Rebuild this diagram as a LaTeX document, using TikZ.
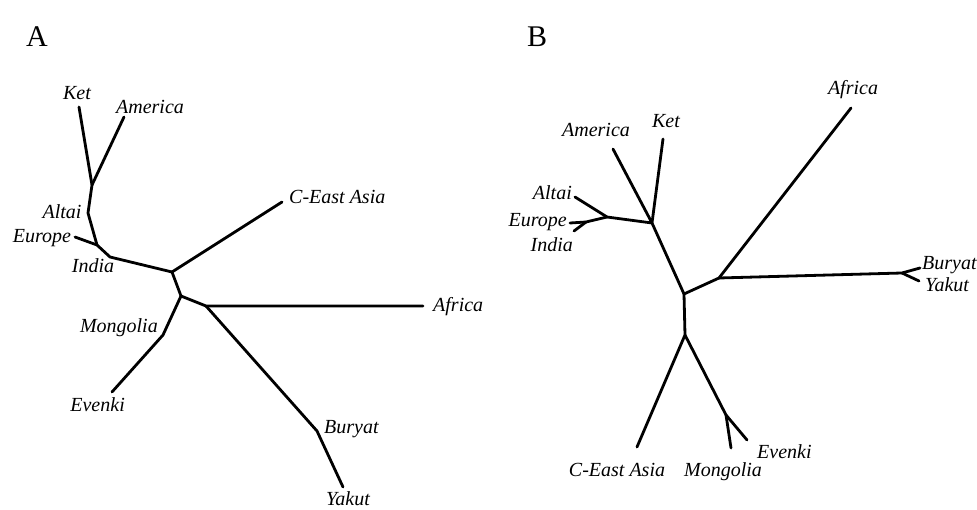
\documentclass[tikz,border=0pt]{standalone}
\usepackage{fontspec}
\setmainfont{Liberation Serif}
\begin{document}
\begin{tikzpicture}[x=1pt,y=-1pt,
  br/.style={line width=2.8pt,line join=round,line cap=round},
  lab/.style={inner sep=0pt,font=\fontsize{20}{20}\selectfont\itshape},
  panel/.style={inner sep=0pt,font=\fontsize{30}{30}\selectfont}]
\useasboundingbox (0,0) rectangle (977,510);
% panel letters
\node[panel] (pA) at (37,37) {A};
\node[panel] (pB) at (537,37) {B};
% ---------------- tree A ----------------
\coordinate (aKet) at (79,107);
\coordinate (aAme) at (124,117);
\coordinate (aJ1) at (92,185);
\coordinate (aAlt) at (88,213);
\coordinate (aJ2) at (97,245);
\coordinate (aEur) at (75,237);
\coordinate (aInd) at (110,257);
\coordinate (aJ3) at (172,272);
\coordinate (aCEA) at (282,202);
\coordinate (aJ4) at (181,296);
\coordinate (aMon) at (163,335);
\coordinate (aEve) at (112,392);
\coordinate (aJ5) at (206,306);
\coordinate (aAfr) at (423,306);
\coordinate (aBur) at (317,431);
\coordinate (aYak) at (343,487);
\draw[br] (aKet) -- (aJ1) -- (aAlt) -- (aJ2) -- (aInd) -- (aJ3) -- (aJ4) -- (aJ5) -- (aAfr);
\draw[br] (aAme) -- (aJ1);
\draw[br] (aEur) -- (aJ2);
\draw[br] (aJ3) -- (aCEA);
\draw[br] (aJ4) -- (aMon) -- (aEve);
\draw[br] (aJ5) -- (aBur) -- (aYak);
\node[lab] (laKet) at (77,93) {Ket};
\node[lab] (laAme) at (150,107) {America};
\node[lab] (laAlt) at (62,212) {Altai};
\node[lab] (laEur) at (42,238) {Europe};
\node[lab] (laInd) at (93,266) {India};
\node[lab,anchor=west] (laCEA) at (289,197) {C-East Asia};
\node[lab,anchor=west] (laAfr) at (433,307) {Africa};
\node[lab,anchor=east] (laMon) at (158,328) {Mongolia};
\node[lab,anchor=east] (laEve) at (125,405) {Evenki};
\node[lab,anchor=west] (laBur) at (324,429) {Buryat};
\node[lab] (laYak) at (348,499) {Yakut};
% ---------------- tree B ----------------
\coordinate (bKet) at (663,139);
\coordinate (bAme) at (613,149);
\coordinate (bJ1) at (652,223);
\coordinate (bJa) at (607,217);
\coordinate (bAlt) at (575,197);
\coordinate (bJb) at (586,222);
\coordinate (bEur) at (570,223);
\coordinate (bInd) at (574,231);
\coordinate (bJ2) at (684,294);
\coordinate (bJ3) at (719,278);
\coordinate (bAfr) at (851,108);
\coordinate (bJc) at (902,273);
\coordinate (bBur) at (920,268);
\coordinate (bYak) at (919,281);
\coordinate (bJ4) at (685,335);
\coordinate (bCEA) at (637,447);
\coordinate (bJd) at (726,415);
\coordinate (bMon) at (731,448);
\coordinate (bEve) at (747,440);
\draw[br] (bKet) -- (bJ1) -- (bJ2) -- (bJ4) -- (bCEA);
\draw[br] (bAme) -- (bJ1) -- (bJa) -- (bAlt);
\draw[br] (bJa) -- (bJb) -- (bEur);
\draw[br] (bJb) -- (bInd);
\draw[br] (bJ2) -- (bJ3) -- (bAfr);
\draw[br] (bJ3) -- (bJc) -- (bBur);
\draw[br] (bJc) -- (bYak);
\draw[br] (bJ4) -- (bJd) -- (bMon);
\draw[br] (bJd) -- (bEve);
\node[lab] (lbKet) at (666,121) {Ket};
\node[lab] (lbAme) at (596,130) {America};
\node[lab,anchor=east] (lbAlt) at (572,193) {Altai};
\node[lab,anchor=east] (lbEur) at (567,222) {Europe};
\node[lab,anchor=east] (lbInd) at (573,245) {India};
\node[lab] (lbAfr) at (853,90) {Africa};
\node[lab,anchor=west] (lbBur) at (922,265) {Buryat};
\node[lab,anchor=west] (lbYak) at (925,285) {Yakut};
\node[lab] (lbCEA) at (617,470) {C-East Asia};
\node[lab] (lbMon) at (723,472) {Mongolia};
\node[lab,anchor=west] (lbEve) at (757,452) {Evenki};
\end{tikzpicture}
\end{document}
